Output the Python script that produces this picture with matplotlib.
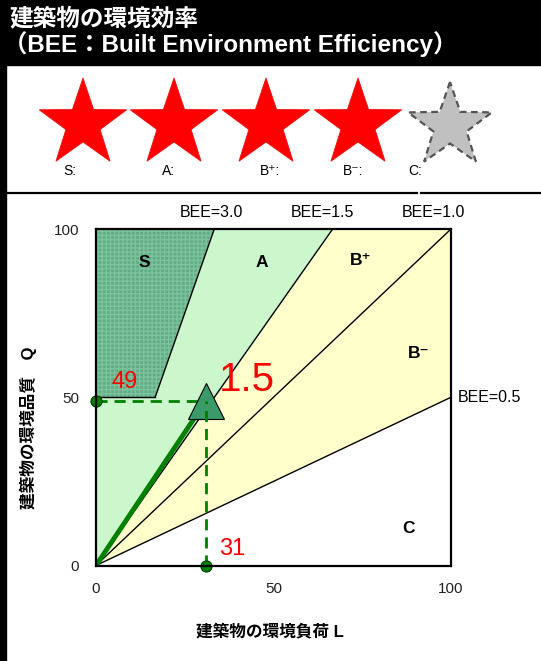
import matplotlib
matplotlib.use("Agg")
import matplotlib.pyplot as plt
import numpy as np
from matplotlib.patches import Polygon, Rectangle

# データ
ranks = ["S:", "A:", "B⁺:", "B⁻:", "C:"]
stars_on = [True, True, True, True, False]
bee_lines = [3.0, 1.5, 1.0, 0.5]
bee_labels = ["BEE=3.0", "BEE=1.5", "BEE=1.0", "BEE=0.5"]
region_names = ["S", "A", "B⁺", "B⁻", "C"]
L_value = 31
Q_value = 49
bee_text = "1.5"
ticks = [0, 50, 100]

FONT = ["Liberation Sans", "DejaVu Sans", "Noto Sans CJK JP"]
JP = ["Liberation Sans", "Noto Sans CJK JP"]
plt.rcParams["font.family"] = FONT

W, H = 541, 661
fig = plt.figure(figsize=(W / 100, H / 100), dpi=100)

# 背景 (ピクセル座標)
bg = fig.add_axes([0, 0, 1, 1])
bg.set_xlim(0, W)
bg.set_ylim(H, 0)
bg.axis("off")
bg.add_patch(Rectangle((0, 0), W, 65, color="black"))
bg.add_patch(Rectangle((0, 0), 6, H, color="black"))
bg.plot([6, 417], [192.5, 192.5], color="black", lw=1.6)
bg.plot([421, W], [192.5, 192.5], color="black", lw=1.6)
bg.text(9, 19, "建築物の環境効率", color="white", fontsize=17,
        fontweight="bold", family=JP, va="center", ha="left")
bg.text(3, 44, "（BEE：Built Environment Efficiency）", color="white",
        fontsize=17.5, fontweight="bold", family=JP, va="center", ha="left")


def star(cx, cy, r_out, r_in):
    ang = np.pi / 2 + np.arange(10) * np.pi / 5
    r = np.where(np.arange(10) % 2 == 0, r_out, r_in)
    return np.column_stack([cx + r * np.cos(ang), cy - r * np.sin(ang)])


star_x = [83, 174, 266, 358, 450]
label_x = [63, 162, 260, 343, 408]
for sx, lx, on, lab in zip(star_x, label_x, stars_on, ranks):
    if on:
        bg.add_patch(Polygon(star(sx, 124, 46, 18), closed=True,
                             facecolor="#ff0000", edgecolor="#f01010", lw=0.6))
    else:
        bg.add_patch(Polygon(star(sx, 126, 44, 17.5), closed=True,
                             facecolor="#c0c0c0", edgecolor="#555555",
                             lw=1.6, linestyle=(0, (3, 2))))
    bg.text(lx, 171, lab, fontsize=10, va="center", ha="left")

# チャート
ax = fig.add_axes([96 / W, 95.5 / H, 355 / W, 336.5 / H])
ax.set_xlim(0, 100)
ax.set_ylim(0, 100)

xt = {b: min(100, 100 / b) for b in bee_lines}
ax.fill([0, 100, 100], [0, 0, 100 * 0.5], color="white", zorder=1)
ax.fill([0, 100, 100], [0, 50, 100], color="#ffffcc", zorder=1)
ax.fill([0, 100, xt[1.5]], [0, 100, 100], color="#ffffcc", zorder=1)
ax.fill([0, xt[1.5], 0], [0, 100, 100], color="#ccf7cc", zorder=1)
ax.fill([0, 50 / 3.0, xt[3.0], 0], [50, 50, 100, 100], facecolor="#62ad86",
        edgecolor="#7cc29c", hatch="++++", lw=0, zorder=1)
ax.plot([0, 50 / 3.0], [50, 50], color="black", lw=1, zorder=2)

for b in bee_lines:
    if b == 3.0:
        ax.plot([50 / b, xt[b]], [50, 100], color="black", lw=1, zorder=2)
    else:
        ax.plot([0, xt[b]], [0, b * xt[b]], color="black", lw=1, zorder=2)

label_off = [-0.8, -3, -5]
for b, lab, off in zip(bee_lines[:3], bee_labels[:3], label_off):
    ax.text(xt[b] + off, 104.8, lab, fontsize=11.5, ha="center", va="center",
            clip_on=False)
ax.text(102, 50, bee_labels[3], fontsize=11.5, ha="left", va="center", clip_on=False)

reg_pos = [(13.5, 90), (46.8, 90), (74.5, 90.5), (91, 63), (88, 11)]
for name, (px, py) in zip(region_names, reg_pos):
    ax.text(px, py, name, fontsize=12.5, fontweight="bold", ha="center", va="center", zorder=5)

# 評価点
ax.plot([0, L_value], [0, Q_value], color="#008000", lw=3.5, zorder=3,
        solid_capstyle="butt")
ax.plot([0, L_value], [Q_value, Q_value], color="#008000", lw=2, dashes=(4, 2.5), zorder=4)
ax.plot([L_value, L_value], [0, Q_value], color="#008000", lw=2, dashes=(4, 2.5), zorder=6)
ax.plot([L_value], [Q_value], marker="^", markersize=26, color="#3a9a68",
        markeredgecolor="black", markeredgewidth=0.8, zorder=5, clip_on=False)
ax.plot([0, L_value], [Q_value, 0], linestyle="none", marker="o", markersize=8,
        color="#008000", markeredgecolor="#004000", markeredgewidth=0.8,
        zorder=7, clip_on=False)
ax.text(8.2, 54.5, str(Q_value), color="red", fontsize=17, ha="center", va="center", zorder=6)
ax.text(38.3, 5, str(L_value), color="red", fontsize=17, ha="center", va="center", zorder=6)
ax.text(42.5, 55, bee_text, color="red", fontsize=29, ha="center", va="center", zorder=6)

ax.set_xticks(ticks)
ax.set_yticks(ticks)
ax.tick_params(length=0, labelsize=11, pad=12, colors="#222222")
for s in ax.spines.values():
    s.set_linewidth(1.6)
    s.set_zorder(8)

fig.text(270 / W, 1 - 631 / H, "建築物の環境負荷 L", fontsize=12, fontweight="bold",
         family=JP, ha="center", va="center")
fig.text(28 / W, 1 - 428 / H, "建築物の環境品質　Q", fontsize=12, fontweight="bold",
         family=JP, ha="center", va="center", rotation=90)

fig.savefig("out.png", dpi=100)
